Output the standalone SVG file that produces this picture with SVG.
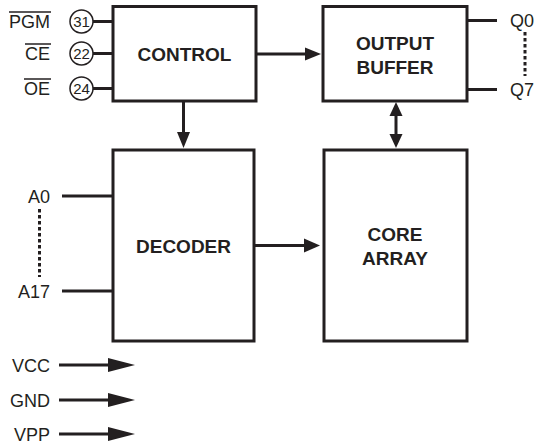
<svg xmlns="http://www.w3.org/2000/svg" width="536" height="445" viewBox="0 0 536 445">
<defs>
<style>
.box{fill:#fff;stroke:#231f20;stroke-width:3}
.ln{fill:none;stroke:#231f20;stroke-width:3}
.thin{fill:none;stroke:#231f20;stroke-width:1.5}
.dot{fill:none;stroke:#231f20;stroke-width:3;stroke-dasharray:3.5 2.5}
.pin{fill:#fff;stroke:#231f20;stroke-width:1.5}
.bt{font-family:"Liberation Sans",Arial,sans-serif;font-weight:bold;font-size:19px;fill:#231f20;text-anchor:middle}
.lb{font-family:"Liberation Sans",Arial,sans-serif;font-size:18px;fill:#231f20}
.r{text-anchor:end}
.num{font-family:"Liberation Sans",Arial,sans-serif;font-size:15px;fill:#231f20;text-anchor:middle}
.ah{fill:#231f20}
</style>
</defs>

<g id="connectors">
<line class="ln" x1="93" y1="21.5" x2="113" y2="21.5"/>
<line class="ln" x1="93" y1="53.5" x2="113" y2="53.5"/>
<line class="ln" x1="93" y1="88.5" x2="113" y2="88.5"/>
<line class="ln" x1="256" y1="54" x2="308" y2="54"/>
<polygon class="ah" points="305,47.5 321,54 305,60.5"/>
<line class="ln" x1="183.5" y1="101" x2="183.5" y2="134"/>
<polygon class="ah" points="177,132 190,132 183.5,148"/>
<line class="ln" x1="254" y1="245.5" x2="306" y2="245.5"/>
<polygon class="ah" points="304,238.5 320,245.5 304,252.5"/>
<line class="ln" x1="396" y1="112" x2="396" y2="138"/>
<polygon class="ah" points="389.5,116 402.5,116 396,102"/>
<polygon class="ah" points="389.5,134 402.5,134 396,148"/>
<line class="ln" x1="467" y1="20.5" x2="497" y2="20.5"/>
<line class="ln" x1="467" y1="89.5" x2="497" y2="89.5"/>
<line class="dot" x1="525" y1="32" x2="525" y2="76"/>
<line class="ln" x1="62" y1="196" x2="113" y2="196"/>
<line class="ln" x1="62" y1="291" x2="113" y2="291"/>
<line class="dot" x1="39.5" y1="209" x2="39.5" y2="277"/>
<line class="ln" x1="59" y1="365" x2="110" y2="365"/>
<polygon class="ah" points="108,358 135,365 108,372"/>
<line class="ln" x1="59" y1="400" x2="110" y2="400"/>
<polygon class="ah" points="108,393 135,400 108,407"/>
<line class="ln" x1="59" y1="434" x2="110" y2="434"/>
<polygon class="ah" points="108,427 135,434 108,441"/>
</g>

<g id="control">
<rect class="box" x="113" y="6.5" width="143" height="94.5"/>
<text class="bt" x="184.5" y="60.5">CONTROL</text>
</g>

<g id="output-buffer">
<rect class="box" x="323" y="6.5" width="144" height="94.5"/>
<text class="bt" x="395" y="50">OUTPUT</text>
<text class="bt" x="395" y="74">BUFFER</text>
</g>

<g id="decoder">
<rect class="box" x="113" y="150" width="141" height="191"/>
<text class="bt" x="183.5" y="252.5">DECODER</text>
</g>

<g id="core-array">
<rect class="box" x="324" y="150" width="143" height="191"/>
<text class="bt" x="395" y="241">CORE</text>
<text class="bt" x="395" y="265">ARRAY</text>
</g>

<g id="pin-pgm">
<text class="lb r" x="50" y="28">PGM</text>
<line class="thin" x1="9" y1="12" x2="51" y2="12"/>
<circle class="pin" cx="81.5" cy="21.5" r="11.5"/>
<text class="num" x="81.5" y="27">31</text>
</g>
<g id="pin-ce">
<text class="lb r" x="50" y="60">CE</text>
<line class="thin" x1="25" y1="44" x2="51" y2="44"/>
<circle class="pin" cx="81.5" cy="53.5" r="11.5"/>
<text class="num" x="81.5" y="59">22</text>
</g>
<g id="pin-oe">
<text class="lb r" x="50" y="95">OE</text>
<line class="thin" x1="24" y1="79" x2="51" y2="79"/>
<circle class="pin" cx="81.5" cy="88.5" r="11.5"/>
<text class="num" x="81.5" y="94">24</text>
</g>

<g id="outputs-labels">
<text class="lb" x="510" y="27">Q0</text>
<text class="lb" x="510" y="96">Q7</text>
</g>

<g id="address-labels">
<text class="lb r" x="50" y="202.5">A0</text>
<text class="lb r" x="50" y="297.5">A17</text>
</g>

<g id="power-labels">
<text class="lb r" x="50" y="371.5">VCC</text>
<text class="lb r" x="50" y="406.5">GND</text>
<text class="lb r" x="50" y="440.5">VPP</text>
</g>
</svg>
